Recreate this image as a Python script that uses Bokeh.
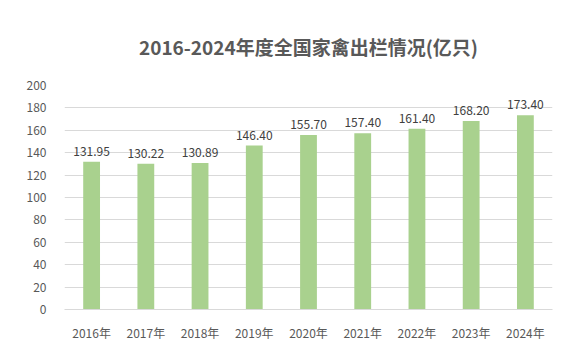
from bokeh.plotting import figure
from bokeh.models import ColumnDataSource, FixedTicker, Title
from bokeh.core.properties import value
from bokeh.embed import file_html
from bokeh.resources import INLINE

years = ["2016年", "2017年", "2018年", "2019年", "2020年", "2021年", "2022年", "2023年", "2024年"]
values = [131.95, 130.22, 130.89, 146.40, 155.70, 157.40, 161.40, 168.20, 173.40]
labels = ["131.95", "130.22", "130.89", "146.40", "155.70", "157.40", "161.40", "168.20", "173.40"]
y_ticks = [0, 20, 40, 60, 80, 100, 120, 140, 160, 180, 200]

FONT = "Noto Sans CJK SC"
TXT = "#595959"

src = ColumnDataSource(dict(x=years, y=values, lab=labels))

p = figure(width=576, height=352, x_range=years, y_range=(0, 200),
           output_backend="svg", toolbar_location=None,
           min_border_left=64, min_border_right=24, min_border_top=85, min_border_bottom=43)
p.title = None
t = Title(text="2016-2024年度全国家禽出栏情况(亿只)", align="center",
          text_font=FONT, text_font_size="19px", text_font_style="bold",
          text_color=TXT, standoff=51)
p.add_layout(t, "above")

p.vbar(x="x", top="y", width=0.31, source=src, color="#a9d18e", line_color=None)
p.text(x="x", y="y", text="lab", source=src, text_align="center", text_baseline="bottom",
       y_offset=-6, text_font=value(FONT), text_font_size="12px", text_color="#404040")

p.outline_line_color = None
p.xgrid.grid_line_color = None
p.ygrid.grid_line_color = "#d9d9d9"
p.ygrid.ticker = FixedTicker(ticks=y_ticks)
p.yaxis.ticker = FixedTicker(ticks=y_ticks)
p.yaxis.axis_line_color = None
p.yaxis.major_tick_line_color = None
p.yaxis.minor_tick_line_color = None
p.yaxis.major_label_standoff = 12
p.xaxis.axis_line_color = "#d9d9d9"
p.xaxis.major_tick_line_color = None
p.xaxis.minor_tick_line_color = None
p.xaxis.major_label_standoff = 8
for ax in (p.xaxis, p.yaxis):
    ax.major_label_text_font = FONT
    ax.major_label_text_font_size = "12px"
    ax.major_label_text_color = TXT
p.x_range.range_padding = 0

open("out.html", "w").write(file_html(p, INLINE))
